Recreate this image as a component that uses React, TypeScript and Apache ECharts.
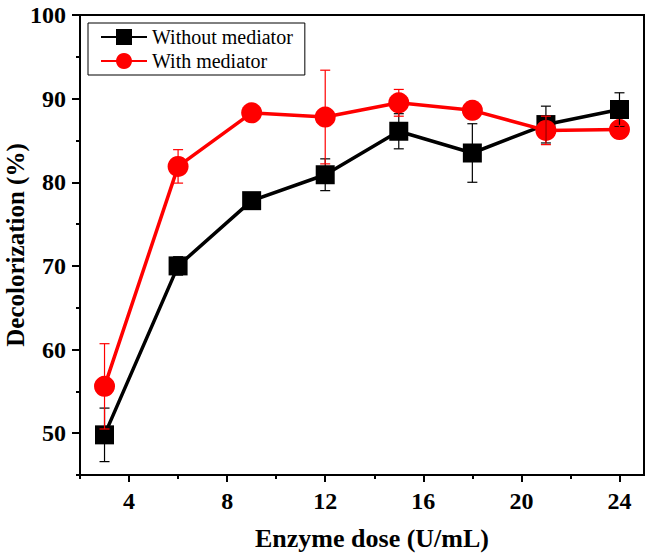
import React, { useEffect, useRef } from "react";
import * as echarts from "echarts";

const doses = [3, 6, 9, 12, 15, 18, 21, 24];
const withoutMediator = [49.8, 70.0, 77.8, 80.9, 86.1, 83.5, 86.9, 88.7];
const withoutErr = [3.2, 1.1, 0.5, 1.9, 2.1, 3.5, 2.2, 2.0];
const withMediator = [55.6, 81.9, 88.3, 87.8, 89.5, 88.6, 86.2, 86.3];
const withErr = [5.1, 2.0, 0.5, 5.6, 1.6, 0.5, 1.7, 0.5];
const xMajorTicks = [4, 8, 12, 16, 20, 24];
const xMinorTicks = [2, 6, 10, 14, 18, 22];
const yMajorTicks = [50, 60, 70, 80, 90, 100];
const yMinorTicks = [45, 55, 65, 75, 85, 95];

const FONT = "Liberation Serif";

function errSeries(name: string, vals: number[], errs: number[], color: string, z: number) {
  return {
    name: name + " err",
    type: "custom",
    xAxisIndex: 0,
    yAxisIndex: 0,
    z,
    silent: true,
    data: doses.map((d, i) => [d, vals[i], errs[i]]),
    renderItem: (params: any, api: any) => {
      const x = api.value(0);
      const y = api.value(1);
      const e = api.value(2);
      const top = api.coord([x, y + e]);
      const bot = api.coord([x, y - e]);
      const hw = 5;
      const style = { stroke: color, lineWidth: 1.2 };
      return {
        type: "group",
        children: [
          { type: "line", shape: { x1: top[0], y1: top[1], x2: bot[0], y2: bot[1] }, style },
          { type: "line", shape: { x1: top[0] - hw, y1: top[1], x2: top[0] + hw, y2: top[1] }, style },
          { type: "line", shape: { x1: bot[0] - hw, y1: bot[1], x2: bot[0] + hw, y2: bot[1] }, style },
        ],
      };
    },
  };
}

export default function App() {
  const ref = useRef<HTMLDivElement>(null);
  useEffect(() => {
    if (!ref.current) return;
    const chart = echarts.init(ref.current, undefined, { renderer: "svg" });
    const axisLineStyle = { color: "#000", width: 2 };
    const gridPos = { left: 80, right: 2, top: 15, bottom: 80, containLabel: false, outerBoundsMode: "none" };
    const labelStyle = { fontFamily: FONT, fontWeight: "bold" as const, fontSize: 24, color: "#000" };
    chart.setOption({
      animation: false,
      backgroundColor: "#fff",
      textStyle: { fontFamily: FONT, color: "#000" },
      grid: [
        { ...gridPos, show: true, borderColor: "#000", borderWidth: 2, backgroundColor: "transparent" },
        { ...gridPos, show: false },
      ],
      legend: {
        data: ["Without mediator", "With mediator"],
        orient: "vertical",
        left: 88,
        top: 23,
        padding: [4, 12, 4, 12],
        itemGap: 4,
        itemWidth: 46,
        itemHeight: 20,
        borderColor: "#000",
        borderWidth: 1,
        textStyle: { fontFamily: FONT, fontSize: 20, color: "#000", fontWeight: "normal" },
      },
      xAxis: [
        {
          type: "value",
          gridIndex: 0,
          min: 2,
          max: 25,
          position: "bottom",
          axisLine: { show: true, lineStyle: axisLineStyle },
          axisTick: { show: true, length: 7, lineStyle: axisLineStyle, customValues: xMajorTicks },
          axisLabel: { ...labelStyle, margin: 14, customValues: xMajorTicks },
          splitLine: { show: false },
          name: "Enzyme dose (U/mL)",
          nameLocation: "middle",
          nameGap: 50,
          nameTextStyle: { fontFamily: FONT, fontWeight: "bold", fontSize: 26, color: "#000", padding: [0, 0, 0, 20] },
        },
        {
          type: "value",
          gridIndex: 1,
          min: 2,
          max: 25,
          position: "bottom",
          axisLine: { show: false },
          axisTick: { show: true, length: 4, lineStyle: axisLineStyle, customValues: xMinorTicks },
          axisLabel: { show: false },
          splitLine: { show: false },
        },
      ],
      yAxis: [
        {
          type: "value",
          gridIndex: 0,
          min: 45,
          max: 100,
          position: "left",
          axisLine: { show: true, lineStyle: axisLineStyle },
          axisTick: { show: true, length: 8, lineStyle: axisLineStyle, customValues: yMajorTicks },
          axisLabel: { ...labelStyle, margin: 14, customValues: yMajorTicks },
          splitLine: { show: false },
          name: "Decolorization (%)",
          nameLocation: "middle",
          nameGap: 52,
          nameMoveOverlap: false,
          nameTextStyle: { fontFamily: FONT, fontWeight: "bold", fontSize: 25, color: "#000" },
        },
        {
          type: "value",
          gridIndex: 1,
          min: 45,
          max: 100,
          position: "left",
          axisLine: { show: false },
          axisTick: { show: true, length: 4, lineStyle: axisLineStyle, customValues: yMinorTicks },
          axisLabel: { show: false },
          splitLine: { show: false },
        },
      ],
      series: [
        {
          name: "Without mediator",
          type: "line",
          xAxisIndex: 0,
          yAxisIndex: 0,
          z: 2,
          data: doses.map((d, i) => [d, withoutMediator[i]]),
          symbol: "rect",
          symbolSize: 19,
          lineStyle: { color: "#000", width: 3.5 },
          itemStyle: { color: "#000" },
        },
        {
          name: "With mediator",
          type: "line",
          xAxisIndex: 0,
          yAxisIndex: 0,
          z: 3,
          data: doses.map((d, i) => [d, withMediator[i]]),
          symbol: "circle",
          symbolSize: 21,
          lineStyle: { color: "#ff0000", width: 3.5 },
          itemStyle: { color: "#ff0000" },
        },
        errSeries("Without mediator", withoutMediator, withoutErr, "#000", 4),
        errSeries("With mediator", withMediator, withErr, "#ff0000", 5),
      ],
    });
    return () => chart.dispose();
  }, []);
  return <div ref={ref} style={{ width: 646, height: 555, position: "absolute", left: 0, top: 0 }} />;
}
